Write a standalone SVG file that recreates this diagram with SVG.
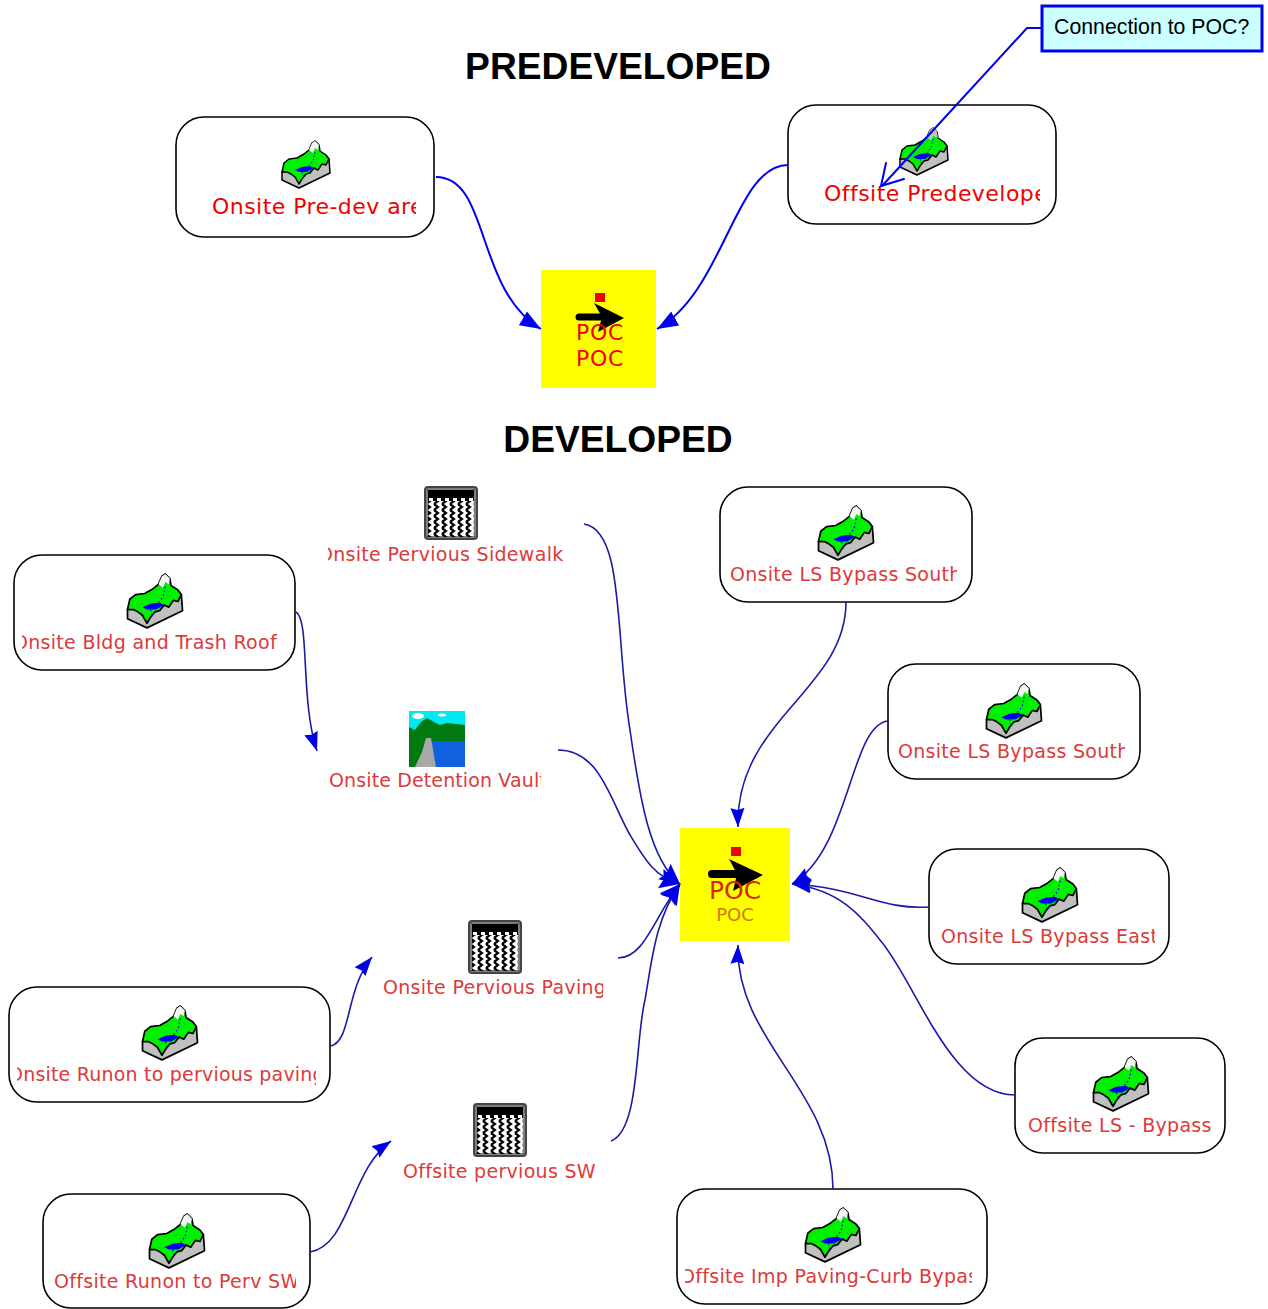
<svg xmlns="http://www.w3.org/2000/svg" width="1268" height="1309" viewBox="0 0 1268 1309">
<style>
.box{fill:#fff;stroke:#000;stroke-width:1.6}
.title{font-family:"Liberation Sans",Arial,sans-serif;font-weight:700;font-size:37.2px;fill:#000;text-anchor:middle}
.big{font-family:"DejaVu Sans",Verdana,sans-serif;font-size:22px;letter-spacing:.45px;fill:#f00000}
.lab{font-family:"DejaVu Sans",Verdana,sans-serif;font-size:19px;letter-spacing:.3px;fill:#dc3a3a}
.c1{fill:none;stroke:#0000f0;stroke-width:2}
.c2{fill:none;stroke:#1a1aa8;stroke-width:1.6}
</style>
<defs>
<marker id="a1" markerUnits="userSpaceOnUse" markerWidth="24" markerHeight="20" refX="21" refY="10" orient="auto"><path d="M0,2L21,10L0,18Z" fill="#0000f0"/></marker>
<marker id="a2" markerUnits="userSpaceOnUse" markerWidth="22" markerHeight="20" refX="19" refY="10" orient="auto"><path d="M0,3L19,10L0,17L2,10Z" fill="#0000e8"/></marker>
<marker id="a3" markerUnits="userSpaceOnUse" markerWidth="24" markerHeight="26" refX="20" refY="13" orient="auto"><path d="M0,3L20,13L0,23L3,13Z" fill="#0000e8"/></marker>
<symbol id="shed" viewBox="0 0 48 48" overflow="visible">
<path d="M0,31L47,18L48,32L17,47L0,39Z" fill="#c0c0c0" stroke="#000" stroke-width="1.5" stroke-linejoin="round"/>
<path d="M0,31L2,22L7,18L15,17L22,13L27,9L30,2L33,0L37,4L38,10L44,14L47,18L44,24L40,23L36,29L32,27L28,32L24,33L20,38L17,43L13,36L9,33L5,31Z" fill="#00f000" stroke="#000" stroke-width="1.5" stroke-linejoin="round"/>
<path d="M27,9L30,2L33,0L37,4L36,9L33,7L31,12Z" fill="#f4f4f4"/>
<path d="M13,29L20,26L28,25L32,27L25,31L17,31Z" fill="#0000f0"/>
<path d="M33,11L31,20L26,26M20,31L22,37" fill="none" stroke="#0000f0" stroke-width="1" stroke-dasharray="1.5 2"/>
</symbol>
<pattern id="zig" width="8" height="6" patternUnits="userSpaceOnUse"><path d="M2,0L6,3L2,6" fill="none" stroke="#000" stroke-width="2.2"/></pattern>
<pattern id="dots" width="8" height="3" patternUnits="userSpaceOnUse"><rect x="1" y="0" width="4" height="3" fill="#000"/></pattern>
<symbol id="pave" viewBox="0 0 54 54">
<rect x="1" y="1" width="52" height="52" rx="3" fill="#fff" stroke="#444" stroke-width="2"/>
<rect x="3" y="3" width="48" height="48" fill="#fff" stroke="#000" stroke-width="1"/>
<rect x="4" y="4" width="46" height="8" fill="#000"/>
<rect x="4" y="12" width="46" height="3" fill="url(#dots)"/>
<rect x="4" y="15" width="46" height="36" fill="url(#zig)"/>
</symbol>
<clipPath id="k1"><rect x="176" y="180" width="240" height="50"/></clipPath>
<clipPath id="k2"><rect x="790" y="170" width="250" height="50"/></clipPath>
<clipPath id="k3"><rect x="328" y="540" width="236" height="30"/></clipPath>
<clipPath id="k4"><rect x="22" y="628" width="256" height="30"/></clipPath>
<clipPath id="k5"><rect x="722" y="560" width="235" height="30"/></clipPath>
<clipPath id="k6"><rect x="890" y="737" width="235" height="30"/></clipPath>
<clipPath id="k7"><rect x="931" y="922" width="224" height="30"/></clipPath>
<clipPath id="k8"><rect x="1017" y="1111" width="194" height="30"/></clipPath>
<clipPath id="k9"><rect x="685" y="1262" width="287" height="30"/></clipPath>
<clipPath id="k10"><rect x="45" y="1267" width="251" height="30"/></clipPath>
<clipPath id="k11"><rect x="17" y="1060" width="299" height="30"/></clipPath>
<clipPath id="k12"><rect x="330" y="766" width="211" height="30"/></clipPath>
<clipPath id="k13"><rect x="380" y="973" width="223" height="30"/></clipPath>
<clipPath id="k14"><rect x="400" y="1157" width="195" height="30"/></clipPath>
</defs>
<rect width="1268" height="1309" fill="#fff"/>
<text class="title" x="618" y="79">PREDEVELOPED</text>
<text class="title" x="618" y="452">DEVELOPED</text>

<g id="node-onsite-predev">
<rect class="box" x="176" y="117" width="258" height="120" rx="28"/>
<use href="#shed" x="282" y="141" width="48" height="48"/>
<text class="big" x="212" y="214" clip-path="url(#k1)">Onsite Pre-dev area</text>
</g>
<g id="node-offsite-predev">
<rect class="box" x="788" y="105" width="268" height="119" rx="28"/>
<use href="#shed" x="900" y="128" width="48" height="48"/>
<path d="M927,137L930,130L933,128L937,132L938,138L934,135L931,140Z" fill="#c0c0c0"/>
<text class="big" x="824" y="201" clip-path="url(#k2)">Offsite Predeveloped</text>
</g>
<g id="node-poc-pre">
<rect x="541" y="270" width="115" height="118" fill="#ffff00"/>
<rect x="595" y="293" width="10" height="9" fill="#f00000"/>
<path d="M579,317H604" stroke="#000" stroke-width="7" stroke-linecap="round"/>
<path d="M594,303L624,318L598,332L602,317Z" fill="#000"/>
<text class="big" x="600" y="340" text-anchor="middle" style="letter-spacing:.7px">POC</text>
<text class="big" x="600" y="366" text-anchor="middle" style="letter-spacing:.7px">POC</text>
</g>
<g id="node-callout">
<rect x="1042" y="6" width="220" height="45" fill="#ccffff" stroke="#0000f0" stroke-width="3"/>
<text x="1054" y="34" font-family="'Liberation Sans',Arial,sans-serif" font-size="21.3" fill="#000">Connection to POC?</text>
</g>

<g id="node-bldg"><rect class="box" x="14" y="555" width="281" height="115" rx="28"/><use href="#shed" x="127" y="574" width="56" height="55"/><text class="lab" x="13" y="649" clip-path="url(#k4)">Onsite Bldg and Trash Roof</text></g>
<g id="node-sidewalk"><use href="#pave" x="424" y="486" width="54" height="54"/><text class="lab" x="318" y="561" clip-path="url(#k3)">Onsite Pervious Sidewalk</text></g>
<g id="node-vault">
<rect x="409" y="711" width="56" height="56" fill="#00e8f0"/>
<path d="M409,727L415,730L421,722L427,718L434,722L440,725L447,723L465,725V767H409Z" fill="#007a10"/>
<path d="M431,741H465V767H435Z" fill="#1060e0"/>
<path d="M415,767L422,752L426,738H431L436,767Z" fill="#a8a8a8"/>
<ellipse cx="418" cy="716" rx="6" ry="3" fill="#fff"/>
<ellipse cx="442" cy="715" rx="4" ry="1.5" fill="#fff"/>
<text class="lab" x="329" y="787" clip-path="url(#k12)" style="letter-spacing:.12px">Onsite Detention Vault</text>
</g>
<g id="node-bypass-south-1"><rect class="box" x="720" y="487" width="252" height="115" rx="28"/><use href="#shed" x="818" y="506" width="56" height="55"/><text class="lab" x="730" y="581" clip-path="url(#k5)">Onsite LS Bypass South</text></g>
<g id="node-bypass-south-2"><rect class="box" x="888" y="664" width="252" height="115" rx="28"/><use href="#shed" x="986" y="684" width="56" height="55"/><text class="lab" x="898" y="758" clip-path="url(#k6)">Onsite LS Bypass South</text></g>
<g id="node-bypass-east"><rect class="box" x="929" y="849" width="240" height="115" rx="28"/><use href="#shed" x="1022" y="868" width="56" height="55"/><text class="lab" x="941" y="943" clip-path="url(#k7)">Onsite LS Bypass East</text></g>
<g id="node-offsite-bypass"><rect class="box" x="1015" y="1038" width="210" height="115" rx="28"/><use href="#shed" x="1093" y="1057" width="56" height="55"/><text class="lab" x="1028" y="1132" clip-path="url(#k8)">Offsite LS - Bypass</text></g>
<g id="node-offsite-imp"><rect class="box" x="677" y="1189" width="310" height="115" rx="28"/><use href="#shed" x="805" y="1208" width="56" height="55"/><text class="lab" x="680" y="1283" clip-path="url(#k9)">Offsite Imp Paving-Curb Bypass</text></g>
<g id="node-offsite-runon"><rect class="box" x="43" y="1194" width="267" height="114" rx="28"/><use href="#shed" x="149" y="1214" width="56" height="55"/><text class="lab" x="54" y="1288" clip-path="url(#k10)">Offsite Runon to Perv SW</text></g>
<g id="node-onsite-runon"><rect class="box" x="9" y="987" width="321" height="115" rx="28"/><use href="#shed" x="142" y="1006" width="56" height="55"/><text class="lab" x="8" y="1081" clip-path="url(#k11)" style="letter-spacing:.2px">Onsite Runon to pervious paving</text></g>
<g id="node-paving"><use href="#pave" x="468" y="920" width="54" height="54"/><text class="lab" x="383" y="994" clip-path="url(#k13)">Onsite Pervious Paving</text></g>
<g id="node-offsite-sw"><use href="#pave" x="473" y="1103" width="54" height="54"/><text class="lab" x="403" y="1178" clip-path="url(#k14)">Offsite pervious SW</text></g>
<g id="node-poc-dev">
<rect x="680" y="828" width="110" height="113" fill="#ffff00"/>
<rect x="731" y="847" width="10" height="9" fill="#f00000"/>
<path d="M712,874H740" stroke="#000" stroke-width="8" stroke-linecap="round"/>
<path d="M729,859L763,875L733,891L737,874Z" fill="#000"/>
<text x="735" y="899" text-anchor="middle" font-family="'DejaVu Sans',sans-serif" font-size="25" fill="#d82808">POC</text>
<text x="735" y="921" text-anchor="middle" font-family="'DejaVu Sans',sans-serif" font-size="18" fill="#cc7a10">POC</text>
</g>

<g id="connectors">
<path class="c1" d="M436,177C490,177 475,290 541,329" marker-end="url(#a1)"/>
<path class="c1" d="M788,165C735,165 725,290 657,329" marker-end="url(#a1)"/>
<path class="c1" d="M1042,28H1027L882,186"/>
<path class="c1" stroke-linecap="round" d="M886,163L881,186L904,179"/>
<path class="c2" d="M584,524C625,530 615,640 630,730C640,800 650,860 680,884" marker-end="url(#a3)"/>
<path class="c2" d="M558,750C600,750 610,800 630,835C645,860 655,877 680,884" marker-end="url(#a3)"/>
<path class="c2" d="M618,958C645,958 655,915 680,884" marker-end="url(#a3)"/>
<path class="c2" d="M611,1141C640,1130 635,1040 645,1000C652,960 655,920 680,884" marker-end="url(#a3)"/>
<path class="c2" d="M846,602C846,690 735,720 738,827" marker-end="url(#a2)"/>
<path class="c2" d="M888,721C850,725 850,850 792,884" marker-end="url(#a2)"/>
<path class="c2" d="M929,907C880,910 860,888 792,884" marker-end="url(#a2)"/>
<path class="c2" d="M1015,1095C950,1095 915,980 880,940C860,915 840,890 792,884" marker-end="url(#a2)"/>
<path class="c2" d="M833,1189C833,1090 735,1040 738,945" marker-end="url(#a2)"/>
<path class="c2" d="M296,612C310,620 300,700 317,751" marker-end="url(#a2)"/>
<path class="c2" d="M331,1046C352,1040 345,990 372,957" marker-end="url(#a2)"/>
<path class="c2" d="M310,1252C350,1245 350,1170 391,1141" marker-end="url(#a2)"/>
</g>
</svg>
